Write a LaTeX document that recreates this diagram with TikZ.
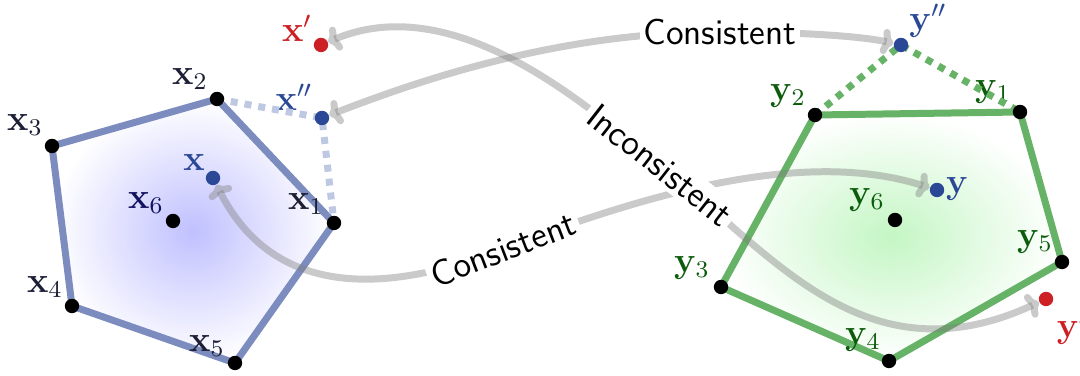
\documentclass[tikz,border=0pt]{standalone}
\usetikzlibrary{arrows.meta}
\definecolor{polyblue}{RGB}{124,140,190}
\definecolor{polygreen}{RGB}{102,178,102}
\definecolor{dotblue}{RGB}{190,200,226}
\definecolor{ptblue}{RGB}{42,72,150}
\definecolor{ptred}{RGB}{204,32,36}
\definecolor{lblx}{RGB}{28,30,52}
\definecolor{lblxsix}{RGB}{18,18,96}
\definecolor{lbly}{RGB}{12,92,12}
\definecolor{fillblue}{RGB}{192,192,255}
\definecolor{fillgreen}{RGB}{196,246,196}
\pgfdeclarelayer{bg}\pgfdeclarelayer{mid}\pgfsetlayers{bg,mid,main}
\begin{document}
\begin{tikzpicture}[x=0.333333pt,y=-0.333333pt,
  every node/.style={font=\fontsize{12}{14}\selectfont},
  pt/.style={circle,inner sep=0pt,minimum size=4.8pt,fill=black},
  edge/.style={line width=2.33pt,line join=round},
  dotline/.style={line width=2.33pt,dash pattern=on 2.33pt off 2.33pt},
  conn/.style={line width=2.33pt,draw=gray,draw opacity=0.42,
    {To[length=4pt,width=8.5pt,round]}-{To[length=4pt,width=8.5pt,round]}},
  clabel/.style={fill=white,inner sep=1.3pt,font=\sffamily\fontsize{12}{14}\selectfont},
]
\useasboundingbox (0,0) rectangle (1080,376);
% points
\node[pt] (x1) at (334,223) {};
\node[pt] (x2) at (217,99) {};
\node[pt] (x3) at (52,146) {};
\node[pt] (x4) at (72,306) {};
\node[pt] (x5) at (235,363) {};
\node[pt] (x6) at (173,221) {};
\node[pt,fill=ptblue] (x) at (213,178) {};
\node[pt,fill=ptblue] (xpp) at (322,118) {};
\node[pt,fill=ptred] (xp) at (321,45) {};
\node[pt] (y1) at (1020,112) {};
\node[pt] (y2) at (815,115) {};
\node[pt] (y3) at (721,287) {};
\node[pt] (y4) at (889,361) {};
\node[pt] (y5) at (1062,262) {};
\node[pt] (y6) at (895,220) {};
\node[pt,fill=ptblue] (y) at (937,190) {};
\node[pt,fill=ptblue] (ypp) at (901,45) {};
\node[pt,fill=ptred] (yp) at (1046,299) {};
% connector labels
\node[clabel] (ctop) at (720,32) {Consistent};
\node[clabel,rotate=21] (cbot) at (503,249) {Consistent};
\node[clabel,rotate=-38] (cinc) at (660,165) {Inconsistent};
\begin{pgfonlayer}{bg}
\shade[inner color=fillblue,outer color=white] (x1.center) -- (x2.center) -- (x3.center) -- (x4.center) -- (x5.center) -- cycle;
\draw[edge,polyblue] (x1.center) -- (x2.center) -- (x3.center) -- (x4.center) -- (x5.center) -- cycle;
\shade[inner color=fillgreen,outer color=white] (y1.center) -- (y2.center) -- (y3.center) -- (y4.center) -- (y5.center) -- cycle;
\draw[edge,polygreen] (y1.center) -- (y2.center) -- (y3.center) -- (y4.center) -- (y5.center) -- cycle;
% labels
\node[text=lblx] (lx1) at (306,204) {$\mathbf{x}_1$};
\node[text=lblx] (lx2) at (190,79) {$\mathbf{x}_2$};
\node[text=lblx] (lx3) at (25,125) {$\mathbf{x}_3$};
\node[text=lblx] (lx4) at (45,287) {$\mathbf{x}_4$};
\node[text=lblx] (lx5) at (207,346) {$\mathbf{x}_5$};
\node[text=lblxsix] (lx6) at (146,203) {$\mathbf{x}_6$};
\node[text=ptblue] (lx) at (194,163) {$\mathbf{x}$};
\node[text=ptblue] (lxpp) at (294,97) {$\mathbf{x}''$};
\node[text=ptred] (lxp) at (297,28) {$\mathbf{x}'$};
\node[text=lbly] (ly1) at (993,92) {$\mathbf{y}_1$};
\node[text=lbly] (ly2) at (788,96) {$\mathbf{y}_2$};
\node[text=lbly] (ly3) at (692,268) {$\mathbf{y}_3$};
\node[text=lbly] (ly4) at (863,340) {$\mathbf{y}_4$};
\node[text=lbly] (ly5) at (1035,242) {$\mathbf{y}_5$};
\node[text=lbly] (ly6) at (867,200) {$\mathbf{y}_6$};
\node[text=ptblue] (ly) at (957,189) {$\mathbf{y}$};
\node[text=ptblue] (lypp) at (928,21) {$\mathbf{y}''$};
\node[text=ptred] (lyp) at (1072,328) {$\mathbf{y}'$};
\draw[dotline,dotblue] (x2.center) -- (xpp.center) -- (x1.center);
\draw[dotline,polygreen] (y2.center) -- (ypp.center) -- (y1.center);
\end{pgfonlayer}
\begin{pgfonlayer}{mid}
\draw[conn] (xpp) .. controls (420,80) and (560,32) .. (ctop.center) .. controls (800,32) and (860,36) .. (ypp);
\draw[conn] (xp) .. controls (459,-13.5) and (597,115) .. (cinc.center) .. controls (770.6,251.8) and (864,383) .. (yp);
\draw[conn] (x) .. controls (267,285) and (363.5,303) .. (cbot.center) .. controls (689,177) and (823,154) .. (y);
\end{pgfonlayer}
\end{tikzpicture}
\end{document}
